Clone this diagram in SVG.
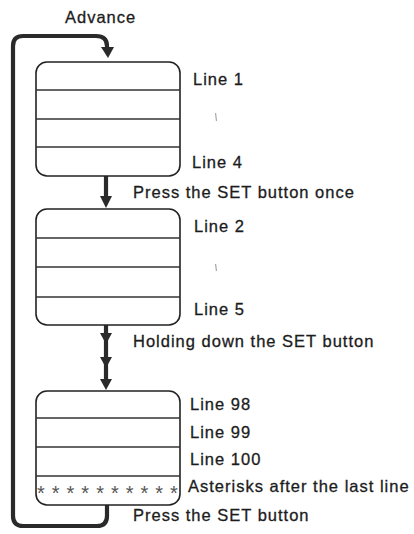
<svg xmlns="http://www.w3.org/2000/svg" width="414" height="534" viewBox="0 0 414 534">
<style>
.box{fill:#fff;stroke:#222;stroke-width:1.6}
.sep{stroke:#333;stroke-width:1.4}
.t{font-family:"Liberation Sans",Arial,Helvetica,sans-serif;font-size:16.5px;letter-spacing:1px;fill:#1c1c1c;stroke:#1c1c1c;stroke-width:0.3}
.ast{font-family:"Liberation Sans",Arial,Helvetica,sans-serif;font-size:20px;letter-spacing:7px;fill:#555}
.flow{fill:none;stroke:#2a2a2a;stroke-width:4.2;stroke-linejoin:round}
.head{fill:#2a2a2a}
.tick{stroke:#aaa;stroke-width:1.3}
</style>
<rect width="414" height="534" fill="#fff"/>
<g id="connectors">
  <path class="flow" d="M107,505 V516 Q107,526 97,526 H23 Q13,526 13,516 V46 Q13,36 23,36 H96 Q107,36 107,46 V48"/>
  <polygon class="head" points="101,47 114,47 108,58"/>
  <line class="flow" x1="106" y1="176" x2="106" y2="198"/>
  <polygon class="head" points="100,196 112,196 106,208"/>
  <line class="flow" x1="106" y1="325" x2="106" y2="382"/>
  <polygon class="head" points="100,333 112,333 106,344"/>
  <polygon class="head" points="100,357 112,357 106,368"/>
  <polygon class="head" points="100,379 112,379 106,390"/>
</g>
<g id="advance-label"><text class="t" x="65" y="23">Advance</text></g>
<g id="screen1">
  <rect class="box" x="36" y="62" width="144" height="114" rx="11"/>
  <line class="sep" x1="36" y1="90" x2="180" y2="90"/>
  <line class="sep" x1="36" y1="119" x2="180" y2="119"/>
  <line class="sep" x1="36" y1="147" x2="180" y2="147"/>
  <text class="t" x="193" y="85">Line 1</text>
  <line class="tick" x1="215.5" y1="113" x2="216.5" y2="121"/>
  <text class="t" x="192" y="168">Line 4</text>
</g>
<g id="label-once"><text class="t" x="133" y="198">Press the SET button once</text></g>
<g id="screen2">
  <rect class="box" x="36" y="209" width="144" height="116" rx="11"/>
  <line class="sep" x1="36" y1="238" x2="180" y2="238"/>
  <line class="sep" x1="36" y1="267" x2="180" y2="267"/>
  <line class="sep" x1="36" y1="297" x2="180" y2="297"/>
  <text class="t" x="194" y="232">Line 2</text>
  <line class="tick" x1="215.5" y1="264" x2="216.5" y2="271"/>
  <text class="t" x="194" y="315">Line 5</text>
</g>
<g id="label-hold"><text class="t" x="133" y="347">Holding down the SET button</text></g>
<g id="screen3">
  <rect class="box" x="36" y="391" width="144" height="114" rx="11"/>
  <line class="sep" x1="36" y1="418" x2="180" y2="418"/>
  <line class="sep" x1="36" y1="447" x2="180" y2="447"/>
  <line class="sep" x1="36" y1="476" x2="180" y2="476"/>
  <text class="ast" x="37" y="500">**********</text>
  <text class="t" x="190" y="410">Line 98</text>
  <text class="t" x="190" y="438">Line 99</text>
  <text class="t" x="190" y="465">Line 100</text>
  <text class="t" x="188" y="492">Asterisks after the last line</text>
</g>
<g id="label-press"><text class="t" x="133" y="521">Press the SET button</text></g>
</svg>
